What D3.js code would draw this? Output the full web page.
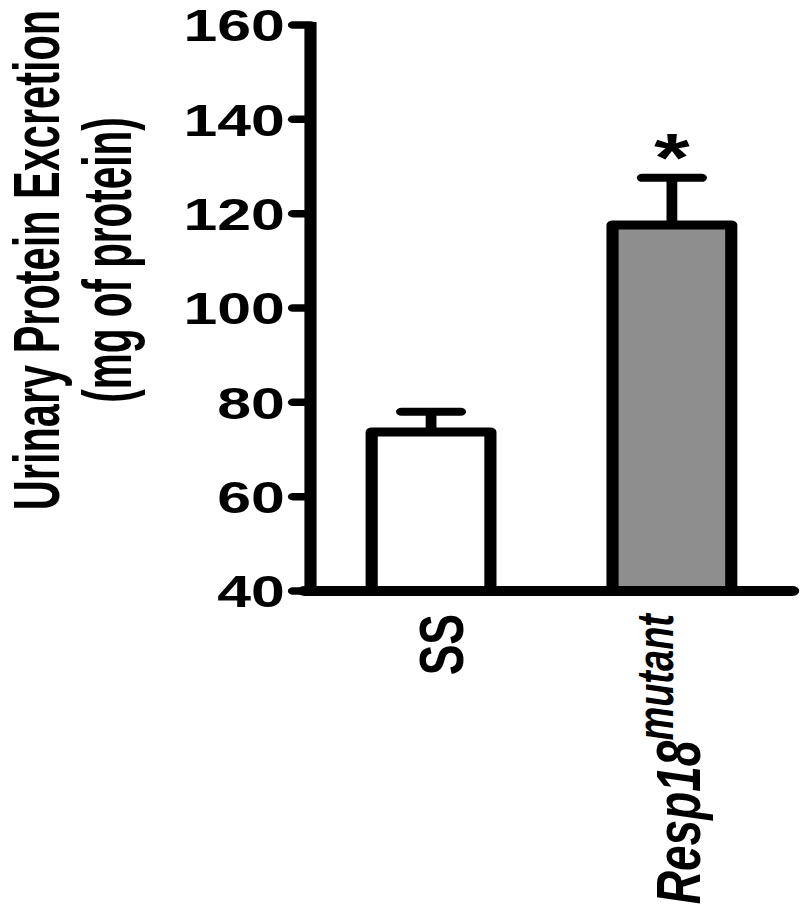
<!DOCTYPE html>
<html>
<head>
<meta charset="utf-8">
<script src="https://cdn.jsdelivr.net/npm/d3@7"></script>
<style>
html,body{margin:0;padding:0;background:#fff;}
svg{display:block;}
text{font-family:"Liberation Sans", Arial, sans-serif;font-weight:bold;fill:#000;}
</style>
</head>
<body>
<svg id="chart" width="800" height="909"></svg>
<script>
// ---- data ----
const categories = ["SS", "Resp18"];
const means = [73.7, 117.6];
const sems = [4.3, 10.0];
const fills = ["#ffffff", "#8e8e8e"];
const significance = ["", "*"];
const yTicks = [40, 60, 80, 100, 120, 140, 160];
const yTitleLines = ["Urinary Protein Excretion", "(mg of protein)"];

// ---- layout (local, horizontally stretched group) ----
const SX = 1.35;
const axisX = 230;
const plotRight = 587;
const yTop = 25, yBottom = 591;

const svg = d3.select("#chart");
const g = svg.append("g").attr("transform", `scale(${SX},1)`);

const y = d3.scaleLinear().domain([40, 160]).range([yBottom, yTop]);
const x = d3.scaleBand().domain(categories).range([axisX, plotRight])
  .paddingInner(0.507).paddingOuter(0.254);

// Y title (glyphs taller than wide, as in the reference)
yTitleLines.forEach((t, i) => {
  const bx = i === 0 ? 44 : 97;
  const fs = i === 0 ? 41.5 : 40.5;
  const k = i === 0 ? 1.16 : 1.25;
  g.append("text")
    .attr("transform", `translate(${bx},260) rotate(-90) scale(1,${k})`)
    .attr("text-anchor", "middle")
    .attr("font-size", fs)
    .text(t);
});

// Bars
categories.forEach((c, i) => {
  const x0 = x(c), bw = x.bandwidth(), cx = x0 + bw / 2;
  const hi = means[i] + sems[i];
  const capHalf = bw * 0.25;
  g.append("line")
    .attr("x1", cx).attr("x2", cx)
    .attr("y1", y(means[i])).attr("y2", y(hi))
    .attr("stroke", "#000").attr("stroke-width", 8);
  g.append("line")
    .attr("x1", cx - capHalf).attr("x2", cx + capHalf)
    .attr("y1", y(hi)).attr("y2", y(hi))
    .attr("stroke", "#000").attr("stroke-width", 8)
    .attr("stroke-linecap", "round");
  g.append("rect")
    .attr("x", x0).attr("width", bw)
    .attr("y", y(means[i])).attr("height", y(40) - y(means[i]))
    .attr("fill", fills[i]).attr("stroke", "#000")
    .attr("stroke-width", 9).attr("stroke-linejoin", "round");
  if (significance[i]) {
    g.append("text")
      .attr("x", cx).attr("y", y(hi) + 3)
      .attr("text-anchor", "middle")
      .attr("font-size", 68)
      .text(significance[i]);
  }
});

// Y axis
g.append("line")
  .attr("x1", axisX).attr("x2", axisX)
  .attr("y1", y(160) - 3).attr("y2", y(40))
  .attr("stroke", "#000").attr("stroke-width", 9);
yTicks.forEach(v => {
  g.append("line")
    .attr("x1", axisX - 13).attr("x2", axisX)
    .attr("y1", y(v)).attr("y2", y(v))
    .attr("stroke", "#000").attr("stroke-width", 7.5)
    .attr("stroke-linecap", "round");
  g.append("text")
    .attr("x", 211).attr("y", y(v))
    .attr("dy", "0.36em")
    .attr("text-anchor", "end")
    .attr("font-size", 45)
    .text(v);
});

// X baseline
g.append("line")
  .attr("x1", axisX - 4.5).attr("x2", plotRight)
  .attr("y1", y(40)).attr("y2", y(40))
  .attr("stroke", "#000").attr("stroke-width", 10)
  .attr("stroke-linecap", "round");
g.append("line")
  .attr("x1", axisX - 4.5).attr("x2", axisX + 1)
  .attr("y1", y(40)).attr("y2", y(40))
  .attr("stroke", "#000").attr("stroke-width", 10);

// X labels
const c0 = x(categories[0]) + x.bandwidth() / 2;
g.append("text")
  .attr("transform", `translate(${c0 + 24},614) rotate(-90)`)
  .attr("text-anchor", "end")
  .attr("font-size", 46)
  .text("SS");

const c1 = x(categories[1]) + x.bandwidth() / 2;
const lab = g.append("text")
  .attr("transform", `translate(${c1 + 21},614) rotate(-90)`)
  .attr("text-anchor", "end")
  .attr("font-style", "italic");
lab.append("tspan").attr("font-size", 46).text("Resp18");
lab.append("tspan").attr("font-size", 38).attr("dy", -20).text("mutant");
</script>
</body>
</html>
